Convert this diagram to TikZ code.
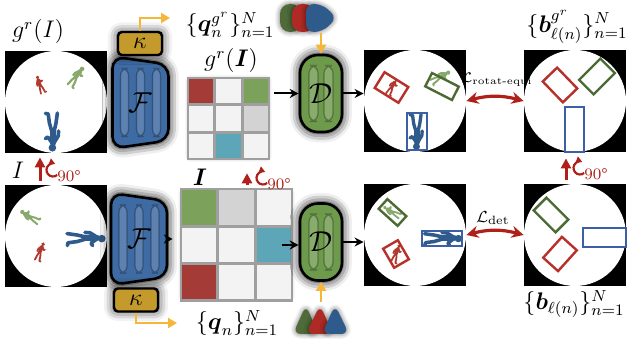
\documentclass[tikz,border=0pt]{standalone}
\usepackage{amsmath}
\usetikzlibrary{matrix,arrows.meta,shadows.blur}

\definecolor{encblue}{HTML}{3E6BA3}
\definecolor{decgreen}{HTML}{6E9A4C}
\definecolor{kgold}{HTML}{C49A2C}
\definecolor{qorange}{HTML}{F4B73A}
\definecolor{rotred}{HTML}{B0201A}
\definecolor{cellred}{HTML}{A43B37}
\definecolor{cellgreen}{HTML}{7BA15A}
\definecolor{cellteal}{HTML}{5DA6B8}
\definecolor{cellgray}{HTML}{D3D3D3}
\definecolor{cellwhite}{HTML}{F3F3F3}
\definecolor{boxred}{HTML}{B7312A}
\definecolor{boxgreen}{HTML}{4C6B34}
\definecolor{boxblue}{HTML}{3C5FA6}
\definecolor{pplred}{HTML}{B03A2E}
\definecolor{pplgreen}{HTML}{88A96C}
\definecolor{pplblue}{HTML}{2F5A8C}
\definecolor{qgreen}{HTML}{4F6B3A}
\definecolor{qred}{HTML}{B02A25}
\definecolor{qblue}{HTML}{2F5A8C}

\begin{document}
\begin{tikzpicture}[x=0.5pt,y=0.5pt,
    glow/.style={blur shadow={shadow xshift=0pt,shadow yshift=0pt,shadow scale=1.03,
      shadow blur radius=4.5pt,shadow opacity=#1}},
    glow/.default=100,
    softglow/.style={blur shadow={shadow xshift=0pt,shadow yshift=0pt,
      shadow blur radius=2.5pt,shadow opacity=#1}},
    softglow/.default=45,
    panel/.style={fill=black,inner sep=0pt,minimum size=51pt,
      path picture={\fill[white] (path picture bounding box.center) circle (25.5pt);}},
    encbar/.style={draw=black,draw opacity=.3,fill=white,fill opacity=.16,line width=.6pt,rounded corners=3.5pt},
    encbody/.style={fill=encblue,draw=black,line width=1.3pt,rounded corners=6pt,glow,
      path picture={\foreach \dx in {-16,0,16}
        \draw[encbar] ([shift={(\dx-4,-34)}]path picture bounding box.center) rectangle +(8,68);}},
    decbar/.style={draw=black,draw opacity=.3,fill=white,fill opacity=.18,line width=.6pt,rounded corners=4pt},
    decbody/.style={fill=decgreen,draw=black,line width=1.3pt,rounded corners=9pt,
      minimum width=21pt,minimum height=38.5pt,inner sep=0pt,glow,font=\Large,
      path picture={\foreach \dx in {-7.5,7.5}
        \draw[decbar] ([shift={(\dx-4.5,-28)}]path picture bounding box.center) rectangle +(9,56);}},
    kbox/.style={fill=kgold,draw=black,line width=1.2pt,rounded corners=2pt,
      minimum width=22pt,minimum height=11.5pt,inner sep=0pt,glow=80},
    cell/.style={draw=gray!75,line width=1.1pt,fill=cellwhite,inner sep=0pt},
    flow/.style={-{Stealth[length=4.5pt,width=4.5pt]},line width=1pt},
    qarrow/.style={draw=qorange,line width=1.3pt,-{Triangle[length=4.5pt,width=5pt]}},
    rotarrow/.style={draw=rotred,line width=1.5pt,-{Triangle[length=5pt,width=5pt]}},
    lossarrow/.style={draw=rotred,line width=1.6pt,
      {Stealth[length=6pt,width=6pt]}-{Stealth[length=6pt,width=6pt]}},
    bbox/.style={line width=1.2pt},
    every node/.style={font=\large}]

    \useasboundingbox (0,0) rectangle (631,342);

    % little people: position, angle, colour, scale
    \providecommand{\walker}[4]{%
      \begin{scope}[shift={#1},rotate=#2,scale=#4]
        \fill[#3] (0.3,8.4) circle (1.9);
        \draw[#3,line cap=round,line width=#4*1.7pt] (0,6) -- (0,0.5);
        \draw[#3,line cap=round,line join=round,line width=#4*.9pt]
          (-0.5,0.5) -- (-1.5,-4) -- (-2.2,-9) (0.5,0.5) -- (1.8,-4) -- (2.4,-8.5) -- (3.8,-8.8)
          (-0.7,5.6) -- (-2.6,2.5) -- (-2.8,0) (0.7,5.6) -- (2.6,3) -- (3.8,3.8);
      \end{scope}}
    % boxes: colour, centre x, centre y, width, height, angle
    \providecommand{\bbox}[6]{%
      \draw[bbox,#1,rotate around={#6:(#2,#3)}] (#2-#4/2,#3-#5/2) rectangle (#2+#4/2,#3+#5/2);}
    % encoder trapezoid with its label
    \providecommand{\encoder}[3]{%
      \draw[encbody] (#1-28,#2+46) -- (#1+28,#2+38) -- (#1+28,#2-38) -- (#1-28,#2-46) -- cycle;
      \node[font=\Large] (#3) at (#1,#2) {$\mathcal{F}$};}
    % rotation sign: arc centre x, y, name of the text
    \providecommand{\rotsign}[3]{%
      \draw[rotred,line width=1.1pt,-{Triangle[length=3pt,width=3.5pt]}] (#1,#2) ++(-50:6.5) arc (-50:-290:6.5);
      \node[rotred,font=\footnotesize,anchor=west,inner sep=0pt] (#3) at (#1+4,#2-6) {90°};}

    % input images
    \node[panel] (imgT) at (56,240) {};
    \node[panel] (imgB) at (56,106) {};
    \walker{(40,257)}{20}{pplred}{.95}
    \walker{(76,265)}{-35}{pplgreen}{1.2}
    \walker{(53,211)}{180}{pplblue}{2}
    \walker{(30,125)}{59}{pplgreen}{1.1}
    \walker{(40,90)}{-20}{pplred}{1}
    \walker{(85,104)}{-90}{pplblue}{2}
    \node (gI) at (38,310) {$g^r(I)$};
    \node (I) at (18,172) {$I$};
    \draw[rotarrow,shorten <=2pt,shorten >=2pt] ([xshift=-8pt]imgB.north) -- ([xshift=-8pt]imgT.south);
    \rotsign{53}{172}{rotL}

    % encoders and kernels
    \encoder{140.5}{239.5}{encT}
    \encoder{139}{103}{encB}
    \node[kbox] (kT) at (140,298.5) {$\kappa$};
    \node[kbox] (kB) at (136,42) {$\kappa$};
    \coordinate (qoutT) at (170,324);
    \coordinate (qoutB) at (177,19);
    \draw[qarrow] (kT.north) |- (qoutT);
    \draw[qarrow] (kB.south) |- (qoutB);
    \node (qsetT) at (230,317) {$\{\boldsymbol{q}_n^{g^r}\}_{n=1}^N$};
    \node (qsetB) at (237,19) {$\{\boldsymbol{q}_n\}_{n=1}^N$};

    % feature grids
    \fill[white,softglow] (190,185) rectangle (267,262);
    \fill[white,softglow] (183,45) rectangle (290,149);
    \matrix (gridT) at (228.5,223.5) [matrix of nodes,nodes in empty cells,
      nodes={cell,minimum size=13.2pt},column sep=-.6pt,row sep=-.6pt]
    { |[fill=cellred]| & & |[fill=cellgreen]| \\
      & & |[fill=cellgray]| \\
      & |[fill=cellteal]| & \\ };
    \matrix (gridB) at (236.5,97) [matrix of nodes,nodes in empty cells,
      nodes={cell,minimum size=18.2pt},column sep=-.6pt,row sep=-.6pt]
    { |[fill=cellgreen]| & |[fill=cellgray]| & \\
      & & |[fill=cellteal]| \\
      |[fill=cellred]| & & \\ };
    \node (gIbold) at (231,281) {$g^r(\boldsymbol{I})$};
    \node (Ibold) at (200,165) {$\boldsymbol{I}$};
    \draw[rotarrow,shorten <=2pt,shorten >=3pt] ([xshift=5.25pt]gridB.north) -- ([xshift=5.25pt]gridB.north |- gridT.south);
    \rotsign{263}{164}{rotM}
    \draw[flow] (encB.east -| 167,0) -- (encB.east -| gridB.west);

    % query tokens
    \fill[qgreen,softglow=60,rounded corners=5pt] (280,310) rectangle (301,338);
    \fill[qred,softglow=60,rounded corners=5pt] (292,310) rectangle (314,338);
    \fill[qblue,softglow=60,rounded corners=4pt] (306,338) -- (322,338) -- (337,324) -- (322,310) -- (306,310) -- cycle;
    \fill[qgreen,softglow=60,rounded corners=4pt] (293,8) -- (318,8) -- (306,37) -- cycle;
    \fill[qred,softglow=60,rounded corners=4pt] (306,8) -- (333,8) -- (320,37) -- cycle;
    \fill[qblue,softglow=60,rounded corners=4pt] (322,8) -- (349,8) -- (335,37) -- cycle;
    \coordinate (qinT) at (321,309);
    \coordinate (qinB) at (321,40);

    % decoders
    \node[decbody] (decT) at (321,248.5) {$\mathcal{D}$};
    \node[decbody] (decB) at (321,100) {$\mathcal{D}$};
    \draw[qarrow] (qinT) -- (decT.north);
    \draw[qarrow] (qinB) -- (decB.south);
    \draw[flow] (decT.west -| 274,0) -- (decT.west);
    \draw[flow] (gridB.east -| 282,0) -- (gridB.east -| decB.west);

    % predictions
    \node[panel] (detT) at (415,241) {};
    \node[panel] (detB) at (415,107) {};
    \draw[flow] (decT.east) -- (decT.east -| detT.west);
    \draw[flow] (decB.east) -- (decB.east -| detB.west);
    \walker{(392,255)}{-30}{pplred}{.95}
    \walker{(440,265)}{-60}{pplgreen}{1.1}
    \walker{(417,211)}{180}{pplblue}{1.85}
    \walker{(392,130)}{60}{pplgreen}{1}
    \walker{(396,88)}{-20}{pplred}{1}
    \walker{(442,104)}{-90}{pplblue}{1.95}
    \bbox{boxred}{391.5}{254.5}{28}{18.6}{-32}
    \bbox{boxgreen}{442}{255.5}{30}{15}{-27}
    \bbox{boxblue}{417}{210.5}{20}{37}{0}
    \bbox{boxgreen}{392.5}{129.5}{25.5}{13}{-42}
    \bbox{boxred}{396}{88}{22}{17}{-60}
    \bbox{boxblue}{442}{103.5}{40}{15}{0}

    % targets
    \node[panel] (gtT) at (575,241) {};
    \node[panel] (gtB) at (575,107) {};
    \bbox{boxred}{560}{257}{29}{20}{-46}
    \bbox{boxgreen}{597}{265.5}{30}{20.5}{45}
    \bbox{boxblue}{574.5}{212.5}{19}{45}{0}
    \bbox{boxgreen}{551}{127}{31}{18}{-45}
    \bbox{boxred}{560}{88}{28}{20}{48}
    \bbox{boxblue}{604.5}{104.5}{43}{19}{0}
    \node (bsetT) at (577,315) {$\{\boldsymbol{b}^{g^r}_{\ell(n)}\}_{n=1}^N$};
    \node (bsetB) at (574,38) {$\{\boldsymbol{b}_{\ell(n)}\}_{n=1}^N$};
    \draw[rotarrow,shorten <=2pt,shorten >=3pt] ([xshift=-4.5pt]gtB.north) -- ([xshift=-4.5pt]gtT.south);
    \rotsign{580}{174}{rotR}

    % losses
    \draw[lossarrow] (detT.east) to[bend left=15] (gtT.west);
    \draw[lossarrow] (detB.east) to[bend left=15] (gtB.west);
    \node[font=\scriptsize,inner sep=1pt] (lossT) at (497,262) {$\mathcal{L}_{\mbox{\tiny rotat-equi}}$};
    \node[font=\footnotesize] (lossB) at (493,124) {$\mathcal{L}_{\mathrm{det}}$};
\end{tikzpicture}
\end{document}
